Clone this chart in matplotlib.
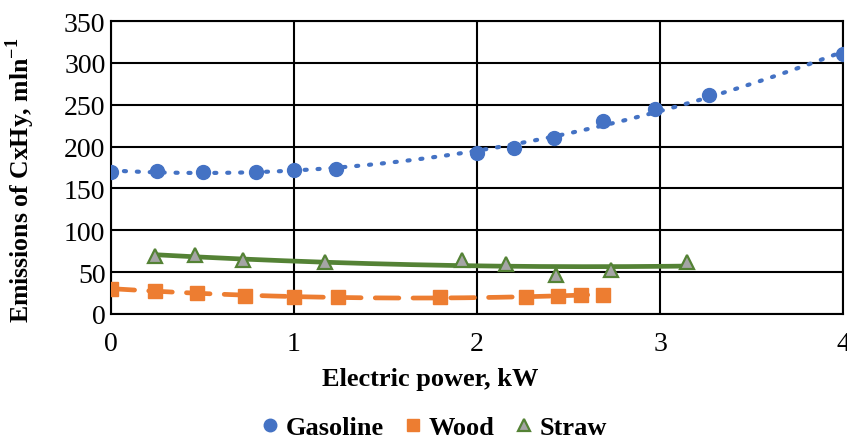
import matplotlib.pyplot as plt
import numpy as np

plt.rcParams['font.family'] = ['Liberation Serif', 'DejaVu Serif']
plt.rcParams['mathtext.fontset'] = 'custom'
plt.rcParams['mathtext.bf'] = 'Liberation Serif:bold'
plt.rcParams['mathtext.rm'] = 'Liberation Serif'

# Gasoline
gas_x = [0.0, 0.25, 0.5, 0.79, 1.0, 1.23, 2.0, 2.2, 2.42, 2.69, 2.97, 3.27, 4.0]
gas_y = [170, 171, 170, 170, 172, 173, 192, 198, 210, 230, 245, 262, 310]
# Wood
wood_x = [0.0, 0.24, 0.47, 0.73, 1.0, 1.24, 1.8, 2.27, 2.44, 2.57, 2.69]
wood_y = [30, 28, 25, 22, 20, 20, 20, 20, 22, 23, 23]
# Straw
straw_x = [0.24, 0.46, 0.72, 1.17, 1.92, 2.16, 2.43, 2.73, 3.15]
straw_y = [69, 70, 65, 62, 64, 60, 47, 53, 62]

blue = '#4472C4'
orange = '#ED7D31'
green = '#548235'
grey = '#A5A5A5'

fig = plt.figure(figsize=(8.47, 4.39), dpi=100)
ax = fig.add_axes([111 / 847, 1 - 315 / 439, 732 / 847, 293 / 439])

def trend(x, y):
    c = np.polyfit(x, y, 2)
    xs = np.linspace(min(x), max(x), 200)
    return xs, np.polyval(c, xs)

xs, ys = trend(gas_x, gas_y)
ax.plot(xs, ys, color=blue, lw=3.0, linestyle=(0, (0.5, 2.6)), dash_capstyle='round', zorder=3)
xs, ys = trend(wood_x, wood_y)
ax.plot(xs, ys, color=orange, lw=3.4, linestyle=(0, (5, 3)), dash_capstyle='round', zorder=3)
xs, ys = trend(straw_x, straw_y)
ax.plot(xs, ys, color=green, lw=3.4, zorder=3)

ax.plot(gas_x, gas_y, 'o', color=blue, ms=10, label='Gasoline', zorder=4)
ax.plot(wood_x, wood_y, 's', color=orange, ms=9.5, label='Wood', zorder=4)
ax.plot(straw_x, straw_y, '^', mfc=grey, mec=green, mew=1.6, ms=10, label='Straw', zorder=4)

ax.set_xlim(0, 4)
ax.set_ylim(0, 350)
ax.set_xticks([0, 1, 2, 3, 4])
ax.set_yticks(range(0, 351, 50))
ax.grid(True, color='black', lw=1.5)
ax.set_axisbelow(True)
for s in ax.spines.values():
    s.set_color('black')
    s.set_linewidth(1.5)
ax.tick_params(length=0, labelsize=20)
ax.tick_params(axis='x', pad=12)
ax.tick_params(axis='y', pad=4)

ax.set_xlabel('Electric power, kW', fontsize=19, fontweight='bold')
ax.xaxis.set_label_coords((430 - 111) / 732, -(368 - 315) / 293, transform=ax.transAxes)
ax.set_ylabel('Emissions of CxHy, mln$^{\\mathbf{-1}}$', fontsize=18.5, fontweight='bold')
ax.yaxis.set_label_coords(-(111 - 37) / 732, (315 - 180) / 293, transform=ax.transAxes)

fig.legend(*ax.get_legend_handles_labels(), loc='center', bbox_to_anchor=(432 / 847, 1 - 428 / 439),
           ncol=3, frameon=False, prop={'size': 19, 'weight': 'bold'}, handletextpad=0.1,
           columnspacing=0.6, handlelength=1.0, markerscale=0.9)

fig.savefig('out.png', dpi=100)
